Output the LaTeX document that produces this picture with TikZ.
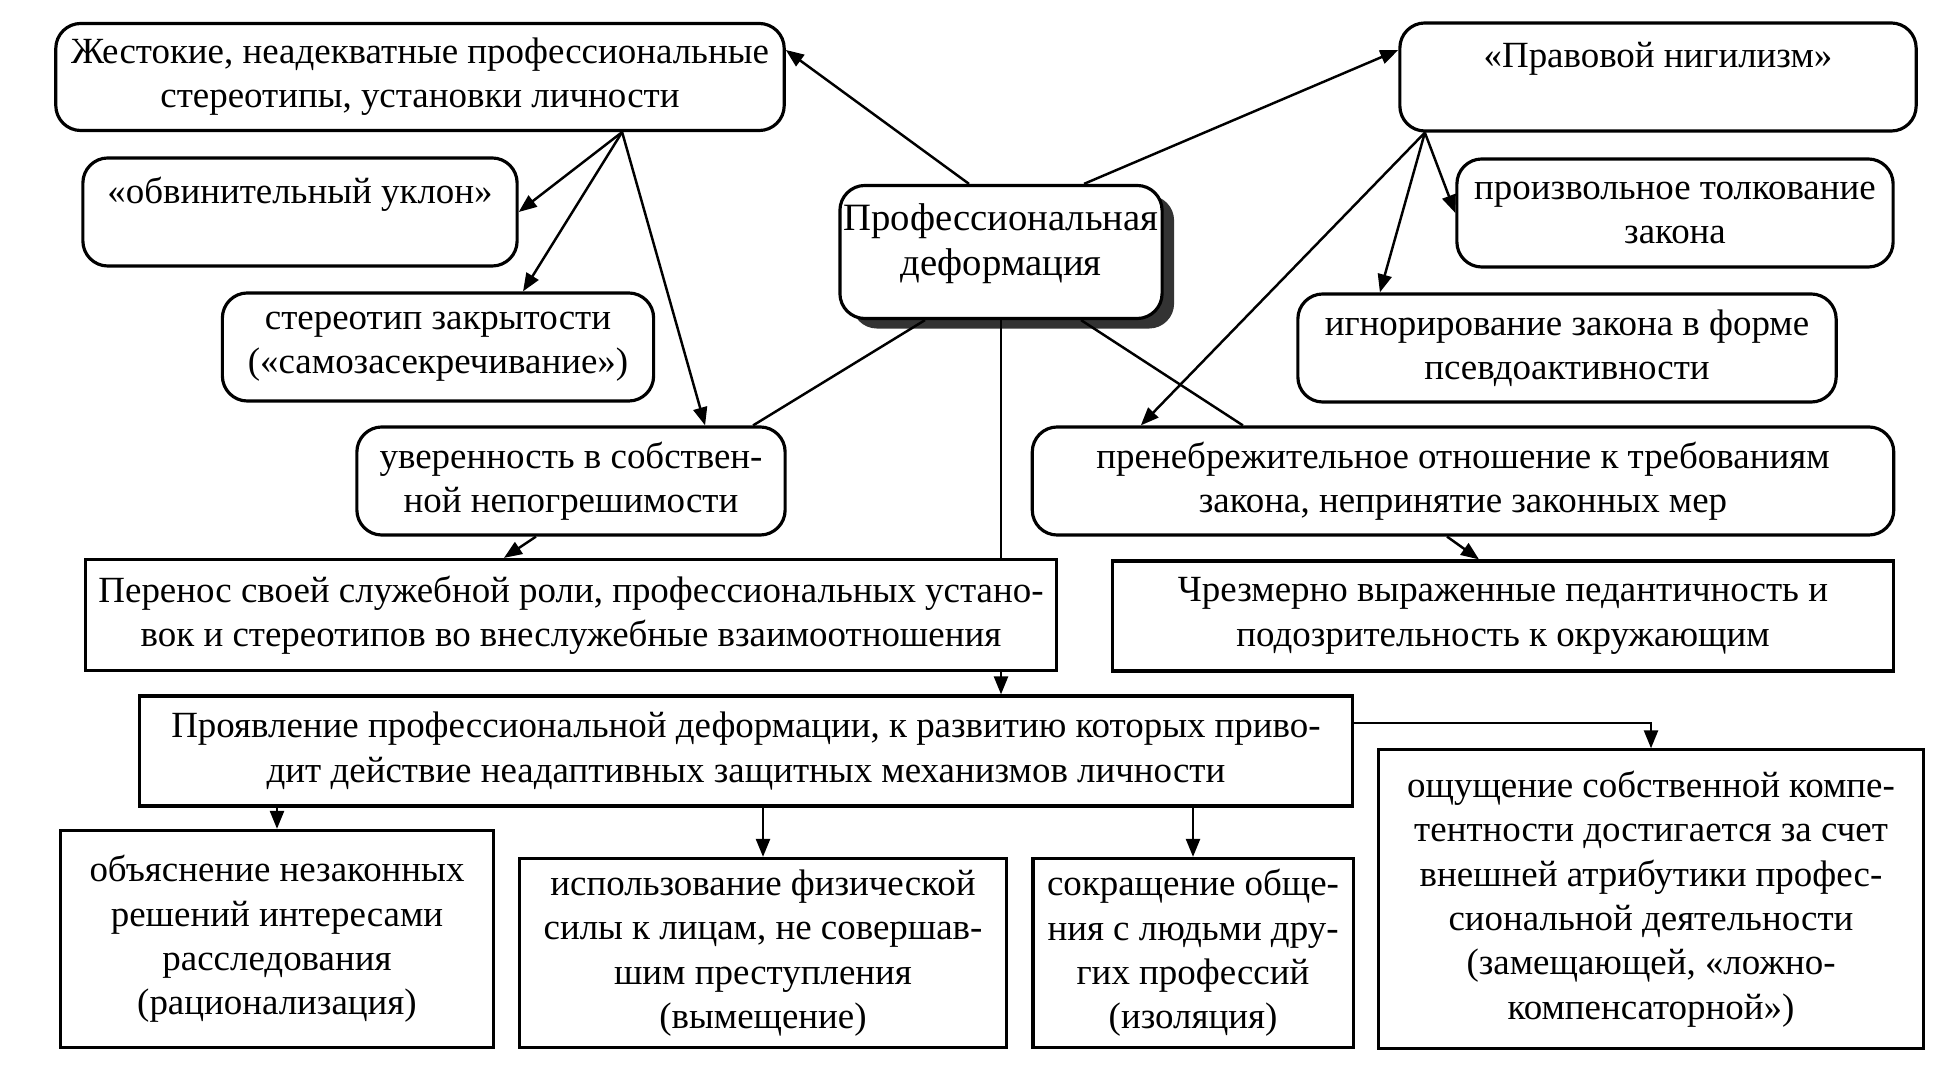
\documentclass[tikz,border=0pt]{standalone}
\usepackage{fontspec}
\setmainfont{Liberation Serif}
\usepackage{tikz}
\usetikzlibrary{arrows.meta, positioning, shadows}

\begin{document}
\begin{tikzpicture}[
  x=0.01cm, y=-0.01cm,
  every node/.style={font=\fontsize{10.5}{12.6}\selectfont},
  rbox/.style={rectangle, draw, rounded corners=2.5mm, line width=0.9pt,
               align=center, inner sep=0pt, fill=white},
  sbox/.style={rectangle, draw, line width=0.9pt, align=center, inner sep=0pt},
  arr/.style={-{Triangle[length=1.8mm, width=1.4mm]}, line width=0.7pt},
  link/.style={line width=0.7pt},
]
  \useasboundingbox (0,0) rectangle (1949,1089);

  % Central box
  \node[rbox, minimum width=3.22cm, minimum height=1.33cm,
        font=\fontsize{11}{13}\selectfont,
        drop shadow={shadow xshift=1.2mm, shadow yshift=-1mm, fill=black!80, opacity=1}]
    (deform) at (1001,252) {Профессиональная\\деформация\\[-6pt]};

  % Left group
  \node[rbox, minimum width=7.28cm, minimum height=1.07cm] (cruel) at (420,77)
    {Жестокие, неадекватные профессиональные\\стереотипы, установки личности};
  \node[rbox, minimum width=4.34cm, minimum height=1.08cm] (accus) at (300,212)
    {«обвинительный уклон»\\\phantom{x}};
  \node[rbox, minimum width=4.31cm, minimum height=1.08cm] (closed) at (438,347)
    {стереотип закрытости\\(«самозасекречивание»)};
  \node[rbox, minimum width=4.28cm, minimum height=1.08cm] (infall) at (571,481)
    {уверенность в собствен-\\ной непогрешимости};

  % Right group
  \node[rbox, minimum width=5.16cm, minimum height=1.08cm] (nihil) at (1658,77)
    {«Правовой нигилизм»\\\phantom{x}};
  \node[rbox, minimum width=4.36cm, minimum height=1.08cm] (arbit) at (1675,213)
    {произвольное толкование\\закона};
  \node[rbox, minimum width=5.38cm, minimum height=1.08cm] (ignore) at (1567,348)
    {игнорирование закона в форме\\псевдоактивности};
  \node[rbox, minimum width=8.61cm, minimum height=1.08cm] (neglect) at (1463,481)
    {пренебрежительное отношение к требованиям\\закона, непринятие законных мер};

  % Middle rows
  \node[sbox, minimum width=9.70cm, minimum height=1.11cm] (transfer) at (571,615)
    {Перенос своей служебной роли, профессиональных устано-\\вок и стереотипов во внеслужебные взаимоотношения};
  \node[sbox, minimum width=7.81cm, minimum height=1.10cm] (pedant) at (1503,616)
    {Чрезмерно выраженные педантичность и\\подозрительность к окружающим};
  \node[sbox, minimum width=12.12cm, minimum height=1.10cm] (manif) at (746,751)
    {Проявление профессиональной деформации, к развитию которых приво-\\дит действие неадаптивных защитных механизмов личности};

  % Bottom row
  \node[sbox, minimum width=4.33cm, minimum height=2.17cm] (ration) at (277,939)
    {объяснение незаконных\\решений интересами\\расследования\\(рационализация)};
  \node[sbox, minimum width=4.86cm, minimum height=1.89cm] (displ) at (763,953)
    {использование физической\\силы к лицам, не совершав-\\шим преступления\\(вымещение)};
  \node[sbox, minimum width=3.20cm, minimum height=1.89cm] (isol) at (1193,953)
    {сокращение обще-\\ния с людьми дру-\\гих профессий\\(изоляция)};
  \node[sbox, minimum width=5.44cm, minimum height=2.98cm] (subst) at (1651,899)
    {ощущение собственной компе-\\тентности достигается за счет\\внешней атрибутики профес-\\сиональной деятельности\\(замещающей, «ложно-\\компенсаторной»)};

  % Fork points
  \coordinate (cruelfork) at ([xshift=2.02cm]cruel.south);
  \coordinate (nihilfork) at ([xshift=-2.33cm]nihil.south);

  % Arrows from the centre
  \draw[arr] ([xshift=-0.32cm]deform.north) -- ([yshift=0.27cm]cruel.east);
  \draw[arr] ([xshift=0.83cm]deform.north) -- ([yshift=0.27cm]nihil.west);
  \draw[link] ([xshift=-0.76cm]deform.south) -- ([xshift=1.82cm]infall.north);
  \draw[link] ([xshift=0.8cm]deform.south) -- ([xshift=-2.2cm]neglect.north);
  \draw[link] (deform.south) -- (deform.south |- transfer.north);

  % Left fork
  \draw[arr] (cruelfork) -- (accus.east);
  \draw[arr] (cruelfork) -- ([xshift=0.85cm]closed.north);
  \draw[arr] (cruelfork) -- ([xshift=1.34cm]infall.north);

  % Right fork
  \draw[arr] (nihilfork) -- (arbit.west);
  \draw[arr] (nihilfork) -- ([xshift=-1.87cm]ignore.north);
  \draw[arr] (nihilfork) -- ([xshift=-3.22cm]neglect.north);

  % Down to the middle rows
  \draw[arr] ([xshift=-0.35cm]infall.south) -- ([xshift=-0.67cm]transfer.north);
  \draw[arr] ([xshift=-0.16cm]neglect.south) -- ([xshift=-0.24cm]pedant.north);
  \draw[arr] (deform.south |- transfer.south) -- (deform.south |- manif.north);

  % Mechanisms
  \draw[arr] (ration.north |- manif.south) -- (ration.north);
  \draw[arr] (displ.north |- manif.south) -- (displ.north);
  \draw[arr] (isol.north |- manif.south) -- (isol.north);
  \draw[arr] ([yshift=0.28cm]manif.east) -| (subst.north);
\end{tikzpicture}
\end{document}
